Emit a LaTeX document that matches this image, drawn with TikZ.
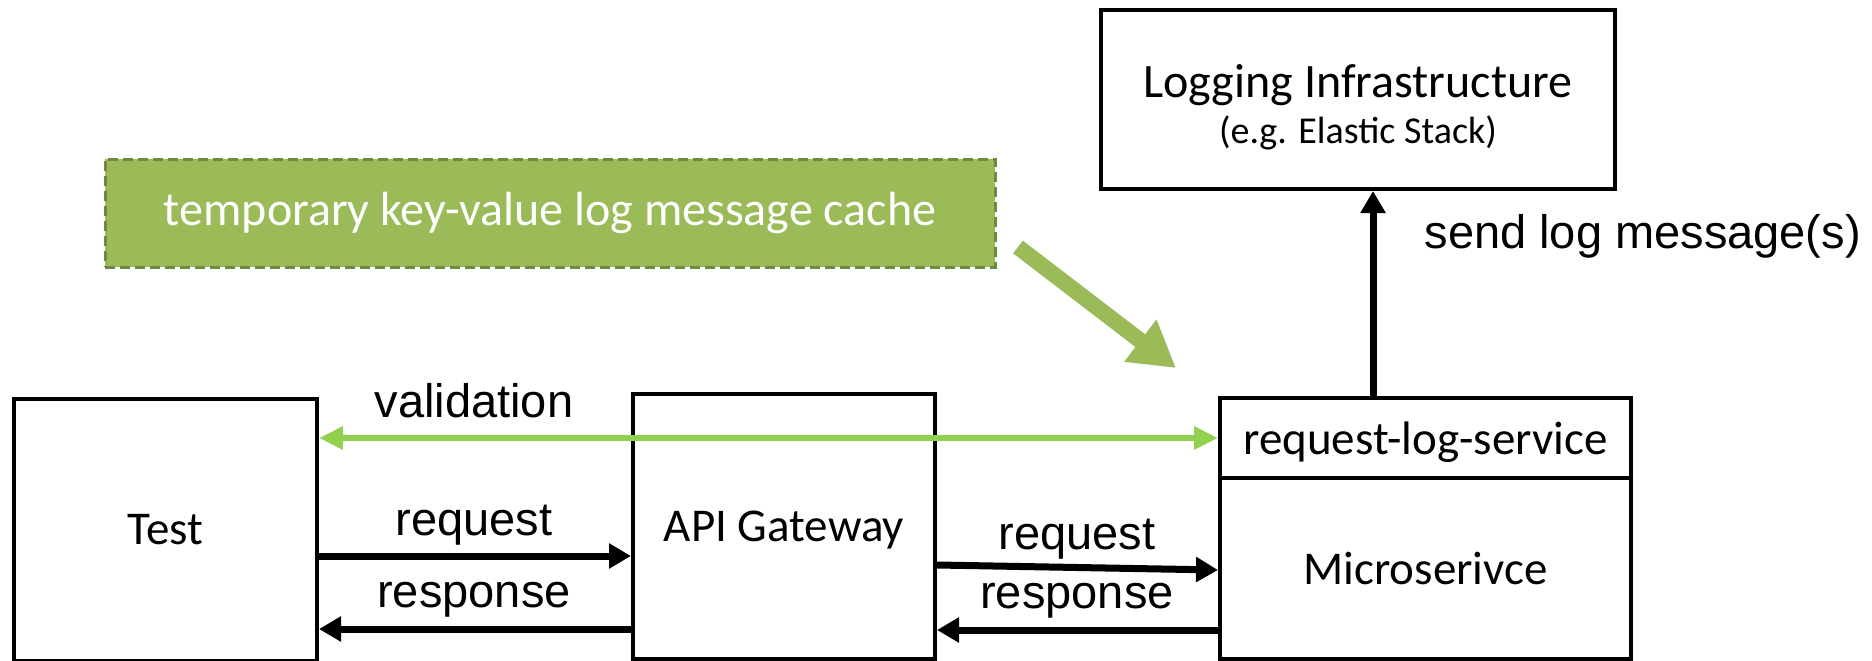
\documentclass[tikz,border=0pt]{standalone}
\usepackage{fontspec}
\setmainfont{Carlito}
\newfontfamily\labelfont{Liberation Sans}
\usetikzlibrary{arrows.meta}
\definecolor{cachegreen}{HTML}{9BBB59}
\definecolor{cacheborder}{HTML}{71893F}
\definecolor{validgreen}{HTML}{92D050}

\begin{document}
\begin{tikzpicture}[x=1pt,y=-1pt,
        box/.style={draw,line width=4pt,font=\fontsize{47}{50}\selectfont},
        lbl/.style={font=\labelfont\fontsize{47}{50}\selectfont},
        flow/.style={line width=7pt,-{Triangle[length=22pt,width=24pt]}}]
        \useasboundingbox (0,0) rectangle (1872,661);
        % The components
        \node[box,minimum width=303pt,minimum height=262pt] (test) at (165.5,530) {Test};
        \node[box,minimum width=302pt,minimum height=265pt,text depth=0pt] (gateway) at (784,526.5) {API Gateway};
        \node[box,minimum width=411pt,minimum height=80pt,text depth=0pt] (rls) at (1425.5,438) {request-log-service};
        \node[box,minimum width=411pt,minimum height=181pt] (micro) at (1425.5,568.5) {Microserivce};
        \node[box,minimum width=514pt,minimum height=179pt] (logging) at (1358,99.5) {};
        \node[align=center,font=\fontsize{48}{50}\selectfont] (logginglabel) at ([yshift=-8pt]logging.center)
            {Logging Infrastructure\\[-4pt]{\fontsize{38}{40}\selectfont (e.g. Elastic Stack)}};
        % The cache and the arrow pointing at the service
        \node[fill=cachegreen,draw=cacheborder,line width=3pt,dash pattern=on 10pt off 5pt,
            minimum width=890pt,minimum height=108pt,text=white,
            font=\fontsize{48}{50}\selectfont] (cache) at (550,213)
            {temporary key-value log message cache};
        \coordinate (hintstart) at (1018,247);
        \coordinate (hintend) at (1176,368);
        \draw[cachegreen,line width=16pt,-{Triangle[length=45pt,width=50pt]}] (hintstart) -- (hintend);
        % Validation between test and service
        \draw[validgreen,line width=6pt,{Triangle[length=24pt,width=22pt]}-{Triangle[length=24pt,width=22pt]}]
            (rls.west) -- (rls.west -| test.east);
        \node[lbl] (validation) at (474,401) {validation};
        % Requests and responses
        \draw[flow] ([yshift=-26pt]test.east) -- ([yshift=-26pt]test.east -| gateway.west);
        \draw[flow] ([yshift=-102.5pt]gateway.west) -- ([yshift=-102.5pt]gateway.west -| test.east);
        \draw[flow] ([yshift=-38.5pt]gateway.east) -- ([yshift=-1.5pt]micro.west);
        \draw[flow] ([yshift=-61.5pt]micro.west) -- ([yshift=-61.5pt]micro.west -| gateway.east);
        \node[lbl] (request1) at (474,525) {request};
        \node[lbl] (response1) at (474,600) {response};
        \node[lbl] (request2) at (1077,539) {request};
        \node[lbl] (response2) at (1077,601) {response};
        % Sending the log messages
        \draw[flow] ([xshift=-52.5pt]rls.north) -- ([xshift=-52.5pt]rls.north |- logging.south);
        \node[lbl,anchor=west] (sendlog) at (1421,236) {send log message(s)};
    \end{tikzpicture}
\end{document}
